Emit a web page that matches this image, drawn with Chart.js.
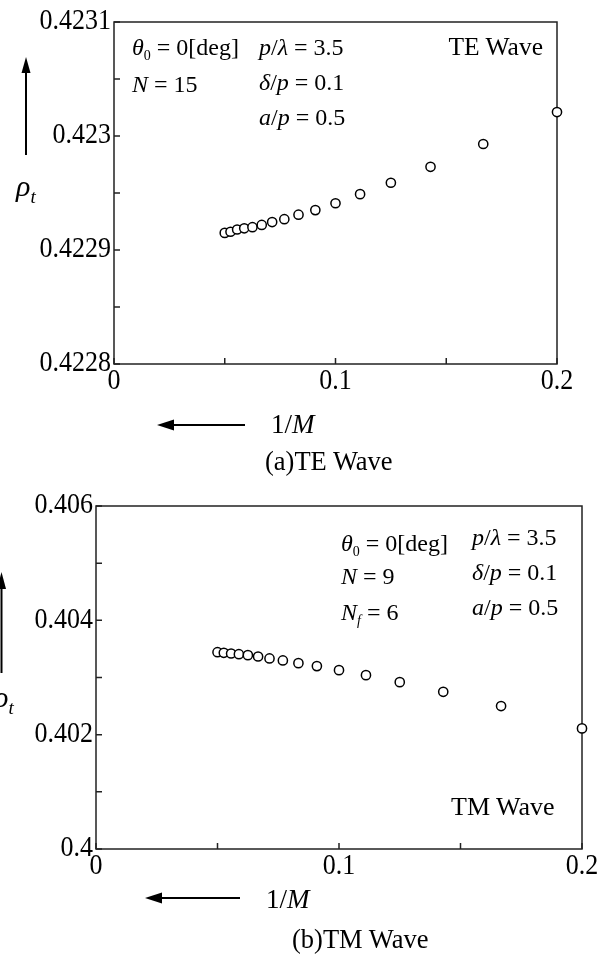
<!DOCTYPE html>
<html>
<head>
<meta charset="utf-8">
<script src="https://cdn.jsdelivr.net/npm/chart.js@4.4.1/dist/chart.umd.min.js"></script>
<style>
  body { margin: 0; background: #fff; font-family: "Liberation Serif", serif; }
  #page { position: relative; width: 613px; height: 955px; overflow: hidden; }
  .box { position: absolute; left: 0; width: 613px; }
  .t { position: absolute; font-size: 24px; line-height: 1; white-space: nowrap; color: #000; }
  .t i { font-style: italic; }
  .t sub { font-size: 14px; vertical-align: -5px; line-height: 0; }
  .cap { font-size: 26.5px; }
  .ax { font-size: 27px; }
  .rho { font-size: 30px; }
  .rho sub { font-size: 19px; vertical-align: -7px; }
  svg { position: absolute; left: 0; top: 0; }
</style>
</head>
<body>
<div id="page">
  <div class="box" style="top:0;height:480px"><canvas id="teChart"></canvas></div>
  <div class="box" style="top:480px;height:475px"><canvas id="tmChart"></canvas></div>

  <svg width="613" height="955">
    <!-- y arrows -->
    <line x1="26" y1="155" x2="26" y2="70" stroke="#000" stroke-width="2"/>
    <polygon points="26,57 21.5,73 30.5,73" fill="#000"/>
    <line x1="1.5" y1="673" x2="1.5" y2="585" stroke="#000" stroke-width="2"/>
    <polygon points="1.5,572 -3,589 6,589" fill="#000"/>
    <!-- x arrows -->
    <line x1="245" y1="425" x2="170" y2="425" stroke="#000" stroke-width="2"/>
    <polygon points="157,425 174,419.5 174,430.5" fill="#000"/>
    <line x1="240" y1="898" x2="158" y2="898" stroke="#000" stroke-width="2"/>
    <polygon points="145,898 162,892.5 162,903.5" fill="#000"/>
  </svg>

  <!-- (a) TE -->
  <div class="t" style="left:132px;top:35px"><i>&theta;</i><sub>0</sub> = 0[deg]</div>
  <div class="t" style="left:132px;top:72px"><i>N</i> = 15</div>
  <div class="t" style="left:259px;top:35px"><i>p</i>/<i>&lambda;</i> = 3.5</div>
  <div class="t" style="left:259px;top:70px"><i>&delta;</i>/<i>p</i> = 0.1</div>
  <div class="t" style="left:259px;top:105px"><i>a</i>/<i>p</i> = 0.5</div>
  <div class="t" style="right:70px;top:34px;font-size:25.5px">TE Wave</div>
  <div class="t rho" style="left:16px;top:171px"><i>&rho;</i><sub><i>t</i></sub></div>
  <div class="t ax" style="left:271px;top:411px">1/<i>M</i></div>
  <div class="t cap" style="left:265px;top:448px">(a)TE Wave</div>

  <!-- (b) TM -->
  <div class="t" style="left:341px;top:531px"><i>&theta;</i><sub>0</sub> = 0[deg]</div>
  <div class="t" style="left:341px;top:564px"><i>N</i> = 9</div>
  <div class="t" style="left:341px;top:600px"><i>N</i><sub><i>f</i></sub> = 6</div>
  <div class="t" style="left:472px;top:525px"><i>p</i>/<i>&lambda;</i> = 3.5</div>
  <div class="t" style="left:472px;top:560px"><i>&delta;</i>/<i>p</i> = 0.1</div>
  <div class="t" style="left:472px;top:595px"><i>a</i>/<i>p</i> = 0.5</div>
  <div class="t" style="left:451px;top:794px;font-size:26px">TM Wave</div>
  <div class="t rho" style="left:-6px;top:682px"><i>&rho;</i><sub><i>t</i></sub></div>
  <div class="t ax" style="left:266px;top:886px">1/<i>M</i></div>
  <div class="t cap" style="left:292px;top:926px">(b)TM Wave</div>
</div>

<script>
// 1/M for M = 20 ... 5
const invM = [0.05, 0.0526, 0.0556, 0.0588, 0.0625, 0.0667, 0.0714, 0.0769,
  0.0833, 0.0909, 0.1, 0.1111, 0.125, 0.1429, 0.1667, 0.2];

const rhoTE = [0.422915, 0.422916, 0.422918, 0.422919, 0.42292, 0.422922,
  0.4229245, 0.422927, 0.422931, 0.422935, 0.422941, 0.422949, 0.422959,
  0.422973, 0.422993, 0.423021];

const rhoTM = [0.403443, 0.403432, 0.40342, 0.403408, 0.403391, 0.403367,
  0.403333, 0.403298, 0.403251, 0.403199, 0.403129, 0.403041, 0.402919,
  0.40275, 0.4025, 0.40211];

const xTicks = [0, 0.1, 0.2];
const yTicksTE = [0.4228, 0.4229, 0.423, 0.4231];
const yTicksTM = [0.4, 0.402, 0.404, 0.406];

Chart.defaults.font.family = '"Liberation Serif", serif';
Chart.defaults.color = "#000";

// the tick font in the original is a bit taller than it is wide
const labelFont = '26px "Liberation Serif"';
const stretchY = 1.15;

function stretchedText(ctx, text, x, y) {
  ctx.save();
  ctx.translate(x, y);
  ctx.scale(1, stretchY);
  ctx.fillText(text, 0, 0);
  ctx.restore();
}

// box frame, inward ticks (left and bottom) and tick labels
const frameTicks = {
  id: "frameTicks",
  beforeDatasetsDraw(chart) {
    const { ctx, chartArea: a, scales } = chart;
    ctx.save();
    ctx.strokeStyle = "#222";
    ctx.lineWidth = 1.5;
    ctx.strokeRect(a.left, a.top, a.right - a.left, a.bottom - a.top);
    ctx.beginPath();
    scales.x.ticks.forEach((t) => {
      const px = scales.x.getPixelForValue(t.value);
      ctx.moveTo(px, a.bottom);
      ctx.lineTo(px, a.bottom - 6);
    });
    scales.y.ticks.forEach((t) => {
      const py = scales.y.getPixelForValue(t.value);
      ctx.moveTo(a.left, py);
      ctx.lineTo(a.left + 6, py);
    });
    ctx.stroke();

    ctx.fillStyle = "#000";
    ctx.font = labelFont;
    ctx.textBaseline = "middle";
    ctx.textAlign = "center";
    scales.x.ticks.forEach((t) => {
      if (t.label) stretchedText(ctx, t.label, scales.x.getPixelForValue(t.value), a.bottom + 17);
    });
    ctx.textAlign = "right";
    scales.y.ticks.forEach((t) => {
      if (t.label) stretchedText(ctx, t.label, a.left - 3, scales.y.getPixelForValue(t.value) - 0.5);
    });
    ctx.restore();
  },
};

function makeChart(id, rho, yTicks, digits, pad, yWidth, xHeight) {
  const yMin = yTicks[0];
  const yMax = yTicks[yTicks.length - 1];
  const yStep = (yTicks[1] - yTicks[0]) / 2;
  const xStep = (xTicks[1] - xTicks[0]) / 2;
  return new Chart(document.getElementById(id), {
    type: "scatter",
    data: {
      datasets: [
        {
          data: invM.map((x, i) => ({ x: x, y: rho[i] })),
          pointStyle: "circle",
          pointRadius: 4.6,
          borderWidth: 1.5,
          borderColor: "#000",
          backgroundColor: "#fff",
          clip: false,
        },
      ],
    },
    options: {
      responsive: true,
      maintainAspectRatio: false,
      animation: false,
      layout: { padding: pad },
      plugins: { legend: { display: false }, tooltip: { enabled: false } },
      scales: {
        x: {
          type: "linear",
          min: xTicks[0],
          max: xTicks[xTicks.length - 1],
          grid: { display: false, drawTicks: false },
          border: { display: false },
          afterFit: (s) => { s.height = xHeight; },
          ticks: {
            display: false,
            stepSize: xStep,
            autoSkip: false,
            callback: (v) => {
              const i = Math.round(v / xStep);
              return i % 2 === 0 ? String(+v.toFixed(1)) : "";
            },
          },
        },
        y: {
          type: "linear",
          min: yMin,
          max: yMax,
          grid: { display: false, drawTicks: false },
          border: { display: false },
          afterFit: (s) => { s.width = yWidth; },
          ticks: {
            display: false,
            stepSize: yStep,
            autoSkip: false,
            callback: (v) => {
              const i = Math.round((v - yMin) / yStep);
              return i % 2 === 0 ? String(+v.toFixed(digits)) : "";
            },
          },
        },
      },
    },
    plugins: [frameTicks],
  });
}

makeChart("teChart", rhoTE, yTicksTE, 4, { left: 0, top: 22, right: 56, bottom: 0 }, 114, 116);
makeChart("tmChart", rhoTM, yTicksTM, 3, { left: 0, top: 26, right: 31, bottom: 0 }, 96, 106);
</script>
</body>
</html>
